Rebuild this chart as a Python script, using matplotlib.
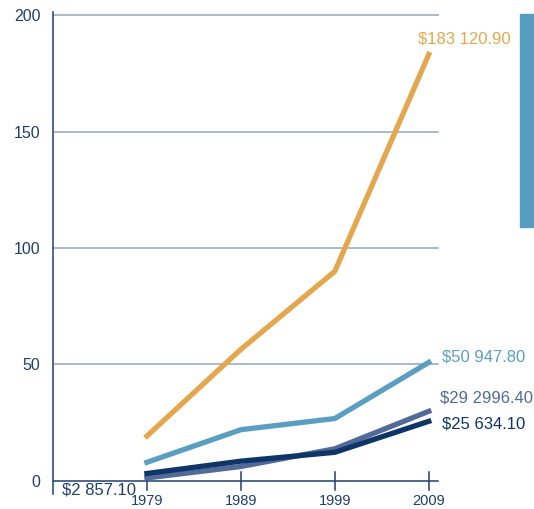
import matplotlib
matplotlib.use("Agg")
import matplotlib.pyplot as plt
from matplotlib.patches import Rectangle

plt.rcParams['font.family'] = ['Liberation Sans', 'DejaVu Sans']

years = [1979, 1989, 1999, 2009]
orange = [19.3, 56.5, 90.0, 183.1]
light_blue = [8.0, 22.0, 26.8, 50.9]
slate = [1.3, 6.2, 13.8, 29.9]
navy = [3.2, 8.5, 12.3, 25.6]
yticks = [0, 50, 100, 150, 200]

c_orange = '#E3A84E'
c_light = '#5A9EC2'
c_slate = '#526A98'
c_navy = '#0E3468'
c_text = '#1F3E6E'
c_grid = '#92A5C0'

fig = plt.figure(figsize=(5.34, 5.09), dpi=100)
ax = fig.add_axes([53/534, 15/509, 1 - 53/534, 482/509])
ax.set_xlim(1969, 2020.2)
ax.set_ylim(-5.6, 201.3)

# gridlines
for y in yticks[1:]:
    ax.plot([1969, 2010], [y, y], color=c_grid, lw=1.1, zorder=1)
ax.plot([1969, 2010], [0, 0], color=c_text, lw=1.1, zorder=1)
for yr in years:
    ax.plot([yr, yr], [-3.9, 3.9], color=c_text, lw=1.1, zorder=1)

ax.plot(years, orange, color=c_orange, lw=3.8, zorder=3)
ax.plot(years, light_blue, color=c_light, lw=3.8, zorder=3)
ax.plot(years, slate, color=c_slate, lw=3.8, zorder=3)
ax.plot(years, navy, color=c_navy, lw=3.8, zorder=4)

ax.text(2007.8, 187.8, '$183 120.90', color=c_orange, fontsize=12, ha='left', va='baseline')
ax.text(2010.4, 53.2, '$50 947.80', color=c_light, fontsize=12, ha='left', va='center')
ax.text(2010.2, 35.6, '$29 2996.40', color=c_slate, fontsize=12, ha='left', va='center')
ax.text(2010.4, 24.5, '$25 634.10', color=c_navy, fontsize=12, ha='left', va='center')
ax.text(1970, -4.0, '$2 857.10', color=c_text, fontsize=12, ha='left', va='center')

for yr in years:
    ax.text(yr, -5.4, str(yr), color=c_text, fontsize=10.5, ha='center', va='top')

ax.set_yticks(yticks)
ax.set_yticklabels([str(v) for v in yticks], color=c_text, fontsize=11.5)
ax.tick_params(axis='y', length=0, pad=9)
ax.set_xticks([])

for s in ['top', 'right', 'bottom']:
    ax.spines[s].set_visible(False)
ax.spines['left'].set_color(c_text)
ax.spines['left'].set_linewidth(1.1)

# side bar
fig.patches.append(Rectangle((520/534, 1 - 227/509), 14/534, 213/509,
                             transform=fig.transFigure, color='#579DC0', zorder=0))

fig.savefig('out.png', dpi=100)
